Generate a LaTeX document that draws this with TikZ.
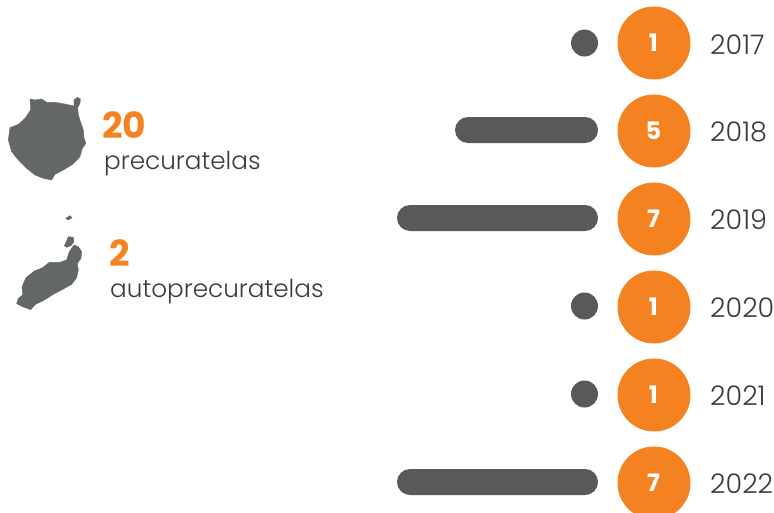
\documentclass[tikz,border=0pt]{standalone}
\usepackage{fontspec}
\setmainfont{Poppins Light}[BoldFont=Poppins Bold]
\definecolor{orangeC}{HTML}{F58220}
\definecolor{barC}{HTML}{58595B}
\definecolor{islandC}{HTML}{636766}
\definecolor{textC}{HTML}{3A3A3D}
\newcommand{\numlift}[1]{\raisebox{-2pt}{\kern-1pt #1}}
\tikzset{
  x=1pt,y=-1pt,
  numcircle/.style={circle,fill=orangeC,minimum size=73pt,inner sep=0pt,text=white,font=\bfseries\fontsize{24}{24}\selectfont},
  yearlabel/.style={anchor=west,inner sep=0pt,text=textC,font=\fontsize{27}{27}\selectfont},
  bar/.style={fill=barC,rounded corners=13pt},
  dotmark/.style={circle,fill=barC,minimum size=27pt,inner sep=0pt},
  bignum/.style={anchor=base west,inner sep=0pt,text=orangeC,font=\bfseries\fontsize{36}{36}\selectfont},
  caption/.style={anchor=base west,inner sep=0pt,text=textC,font=\fontsize{24.7}{24.7}\selectfont},
  island/.style={fill=islandC,draw=islandC,line width=0.4pt,line join=round}
}
\begin{document}
\begin{tikzpicture}
\useasboundingbox (0,0) rectangle (774,512);
\node[numcircle] (c1) at (654,43) {\numlift{1}};
\node[numcircle] (c2) at (654,131) {\numlift{5}};
\node[numcircle] (c3) at (654,219) {\numlift{7}};
\node[numcircle] (c4) at (654,307) {\numlift{1}};
\node[numcircle] (c5) at (654,395) {\numlift{1}};
\node[numcircle] (c6) at (654,483) {\numlift{7}};
\node[yearlabel] (y1) at (710,45) {2017};
\node[yearlabel] (y2) at (710,132) {2018};
\node[yearlabel] (y3) at (710,220) {2019};
\node[yearlabel] (y4) at (710,308) {2020};
\node[yearlabel] (y5) at (710,396) {2021};
\node[yearlabel] (y6) at (710,484) {2022};
\node[dotmark] (d1) at (584.5,43) {};
\node[dotmark] (d4) at (584.5,306) {};
\node[dotmark] (d5) at (584.5,394) {};
\fill[bar] (455,117) rectangle (598,143);
\fill[bar] (397,205) rectangle (598,231);
\fill[bar] (397,469) rectangle (598,495);
\node[bignum] (n20) at (102,138) {20};
\node[caption] (t20) at (104,169) {precuratelas};
\node[bignum] (n2) at (109,266) {2};
\node[caption] (t2) at (110,297) {autoprecuratelas};
\begin{scope}[shift={(0pt,-85pt)},x=0.3333pt,y=-0.3333pt]
\draw[island] (90,42)--(105,45)--(125,42)--(140,52)--(165,52)--(195,57)--(222,63)--(222,45)--(232,37)--(241,42)--(240,55)--(233,68)--(235,90)--(243,115)--(250,135)--(252,160)--(258,175)--(247,190)--(240,215)--(218,238)--(190,255)--(165,268)--(155,285)--(130,280)--(105,270)--(80,250)--(55,225)--(35,200)--(25,165)--(30,128)--(55,118)--(75,100)--(92,75)--cycle;
\end{scope}
\begin{scope}[shift={(0pt,-205pt)},x=0.3333pt,y=-0.3333pt]
\draw[island] (222,120)--(235,125)--(245,140)--(243,160)--(232,175)--(235,195)--(230,218)--(215,238)--(190,252)--(160,268)--(130,287)--(108,297)--(92,314)--(70,306)--(50,296)--(55,280)--(68,270)--(66,245)--(78,218)--(103,198)--(128,188)--(148,172)--(180,172)--(200,165)--(208,140)--cycle;
\draw[island] (205,95)--(220,97)--(222,110)--(213,122)--(200,127)--(193,122)--(200,108)--cycle;
\draw[island] (197,40)--(210,32)--(216,38)--(205,45)--cycle;
\end{scope}
\end{tikzpicture}
\end{document}
